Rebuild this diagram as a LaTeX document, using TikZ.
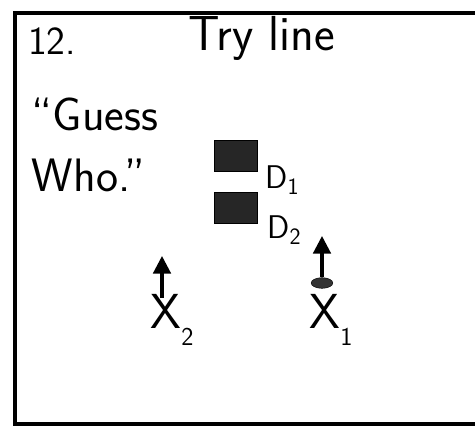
\documentclass[tikz,border=0pt]{standalone}
\usepackage{tikz}
\usetikzlibrary{
	arrows.meta,
	positioning,
	shapes.geometric
}

\begin{document}
\begin{tikzpicture}[
		x=0.03cm, y=-0.03cm,
		hand/.style={font=\sffamily, inner sep=0pt},
		player/.style={draw, fill=black!85, line width=1pt, minimum width=1.3cm, minimum height=0.95cm, inner sep=0pt},
		arrow/.style={-{Triangle[width=15pt,length=15pt]}, line width=2.6pt}
		]
		\useasboundingbox (0,0) rectangle (475,429);
		
		% --- Frame ---
		\draw[line width=3pt] (475,13) -- (15,13) -- (15,424) -- (475,424);
		
		% --- Title ---
		\node[hand, font=\sffamily\fontsize{34}{36}\selectfont] (num) at (52,41) {12.};
		\node[hand, font=\sffamily\fontsize{42}{44}\selectfont] (title) at (262,38) {Try line};
		\node[hand, font=\sffamily\fontsize{40}{52}\selectfont, align=left] (guess) at (95,145) {``Guess\\ Who.''};
		
		% --- Defenders ---
		\node[player] (d1) at (236,156) {};
		\node[player] (d2) at (236,208) {};
		\node[hand, font=\sffamily\fontsize{28}{30}\selectfont] (d1l) at (282,180) {D\raisebox{-0.2em}{\fontsize{20}{22}\selectfont 1}};
		\node[hand, font=\sffamily\fontsize{28}{30}\selectfont] (d2l) at (284,230) {D\raisebox{-0.2em}{\fontsize{20}{22}\selectfont 2}};
		
		% --- Attackers ---
		\node[hand, font=\sffamily\fontsize{42}{44}\selectfont] (x2) at (172,320) {X\raisebox{-0.35em}{\fontsize{22}{24}\selectfont 2}};
		\node[hand, font=\sffamily\fontsize{42}{44}\selectfont] (x1) at (331,320) {X\raisebox{-0.35em}{\fontsize{22}{24}\selectfont 1}};
		\node[draw, fill=black!80, ellipse, minimum width=0.65cm, minimum height=0.32cm, inner sep=0pt] (ball) at (322,283) {};
		
		\coordinate (x2tip) at (162,256);
		\coordinate (x1tip) at (322,236);
		
		% --- Arrows ---
		\draw[arrow] (162,298) -- (x2tip);
		\draw[arrow] (ball) -- (x1tip);
		
	\end{tikzpicture}
\end{document}
